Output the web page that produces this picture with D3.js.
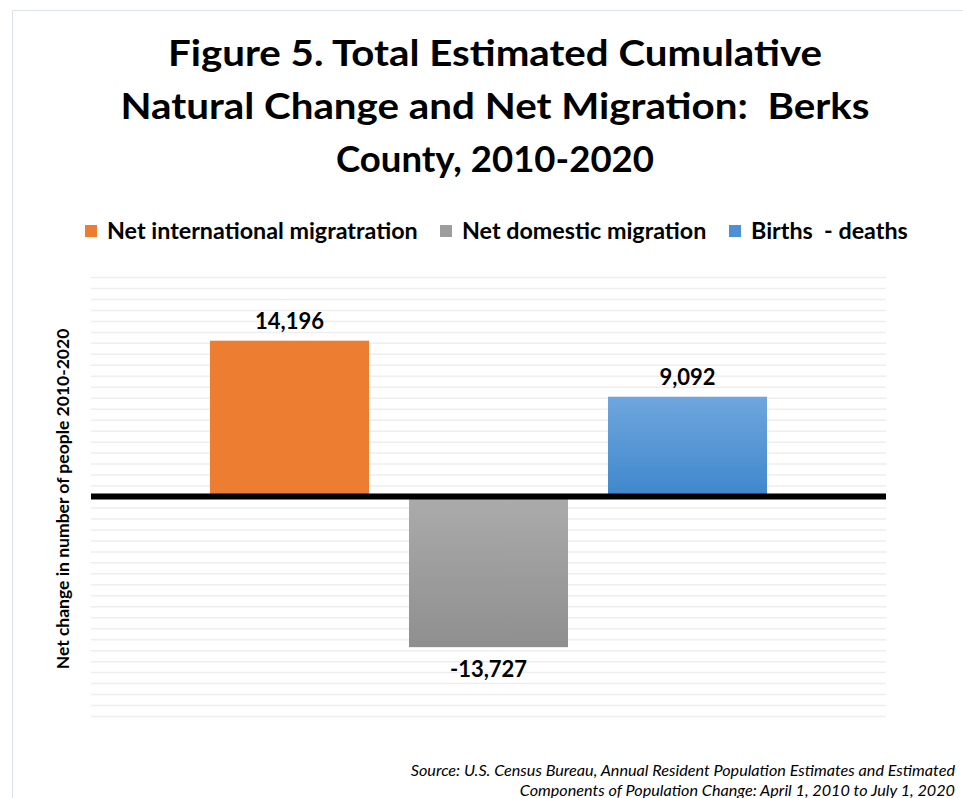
<!DOCTYPE html>
<html><head><meta charset="utf-8">
<script src="https://cdn.jsdelivr.net/npm/d3@7"></script>
<style>body{margin:0;background:#fff}svg{display:block}text{white-space:pre}</style>
</head><body>
<script>
const categories = [""];
const seriesNames = ["Net international migratration", "Net domestic migration", "Births  - deaths"];
const seriesValues = [14196, -13727, 9092];
const labelTexts = ["14,196", "-13,727", "9,092"];
const titleLines = ["Figure 5. Total Estimated Cumulative", "Natural Change and Net Migration:  Berks", "County, 2010-2020"];
const yTitle = "Net change in number of people 2010-2020";
const sourceLines = ["Source: U.S. Census Bureau, Annual Resident Population Estimates and Estimated", "Components of Population Change: April 1, 2010 to July 1, 2020"];

const W = 963, H = 798;
const svg = d3.select("body").append("svg").attr("width", W).attr("height", H);
const font = "Lato, 'Open Sans', sans-serif";

// border
svg.append("path").attr("d", `M12.5,${H} V10.5 H${W}`).attr("fill","none").attr("stroke","#dde3ea").attr("stroke-width",1);

const defs = svg.append("defs");
const g1 = defs.append("linearGradient").attr("id","gGray").attr("x1",0).attr("y1",0).attr("x2",0).attr("y2",1);
g1.append("stop").attr("offset","0").attr("stop-color","#ababab");
g1.append("stop").attr("offset","1").attr("stop-color","#8f8f8f");
const g2 = defs.append("linearGradient").attr("id","gBlue").attr("x1",0).attr("y1",0).attr("x2",0).attr("y2",1);
g2.append("stop").attr("offset","0").attr("stop-color","#6fa6de");
g2.append("stop").attr("offset","1").attr("stop-color","#3f87cb");
const fills = ["#ed7d31", "url(#gGray)", "url(#gBlue)"];
const legendFills = ["#ed7d31", "#9d9d9d", "#4d90d6"];

// title
const titleWidths = [654, 749, 318];
svg.append("g").selectAll("text").data(titleLines).join("text")
  .attr("x", 495).attr("y", (d,i)=> 66 + i*53)
  .attr("text-anchor","middle").attr("font-family",font).attr("font-weight","bold")
  .attr("font-size", 37).attr("fill","#000")
  .attr("textLength",(d,i)=>titleWidths[i]).attr("lengthAdjust","spacingAndGlyphs")
  .text(d=>d);

// scales
const plotL = 91, plotR = 886;
const y = d3.scaleLinear().domain([-20000, 20000]).range([716, 277]);
const x0 = d3.scaleBand().domain(categories).range([plotL, plotR]).paddingInner(0).paddingOuter(0.2136);
const x1 = d3.scaleBand().domain(seriesNames).range([0, x0.bandwidth()]).paddingInner(0.201).paddingOuter(0);

// gridlines
const ticks = d3.range(-20000, 20001, 1000);
svg.append("g").call(d3.axisLeft(y).tickValues(ticks).tickSize(-(plotR-plotL)).tickFormat(""))
  .attr("transform",`translate(${plotL},0)`)
  .call(g=>g.select(".domain").remove())
  .call(g=>g.selectAll(".tick line").attr("stroke","#eeeeee").attr("stroke-width",1.5));

// bars
const cat = svg.append("g").attr("transform",`translate(${x0(categories[0])},0)`);
cat.selectAll("rect").data(seriesValues).join("rect")
  .attr("x",(d,i)=>x1(seriesNames[i]))
  .attr("width", x1.bandwidth())
  .attr("y", d=> y(Math.max(0,d)))
  .attr("height", d=> Math.abs(y(d)-y(0)))
  .attr("fill",(d,i)=>fills[i]);

// labels
cat.selectAll("text").data(seriesValues).join("text")
  .attr("x",(d,i)=>x1(seriesNames[i]) + x1.bandwidth()/2)
  .attr("y", d=> d>=0 ? y(d)-12 : y(d)+30)
  .attr("text-anchor","middle").attr("font-family",font).attr("font-weight","bold")
  .attr("font-size",22).attr("fill","#000")
  .text((d,i)=>labelTexts[i]);

// zero line
svg.append("line").attr("x1",plotL).attr("x2",plotR).attr("y1",y(0)).attr("y2",y(0))
  .attr("stroke","#000").attr("stroke-width",6);

// y title
svg.append("text").attr("transform",`translate(69,${499}) rotate(-90)`)
  .attr("text-anchor","middle").attr("font-family",font).attr("font-weight","bold")
  .attr("font-size",17.5).attr("fill","#000").text(yTitle);

// legend
const legX = [85, 440, 729];
const leg = svg.append("g");
seriesNames.forEach((n,i)=>{
  leg.append("rect").attr("x",legX[i]).attr("y",225).attr("width",12).attr("height",12).attr("fill",legendFills[i]);
  leg.append("text").attr("x",legX[i]+22).attr("y",239).attr("font-family",font).attr("font-weight","bold")
    .attr("font-size",23.3).attr("fill","#000").text(n);
});

// source
svg.append("g").selectAll("text").data(sourceLines).join("text")
  .attr("x",955).attr("y",(d,i)=>776+i*19.5).attr("text-anchor","end")
  .attr("font-family",font).attr("font-style","italic").attr("font-size",16.2).attr("fill","#000").text(d=>d);
</script>
</body></html>
